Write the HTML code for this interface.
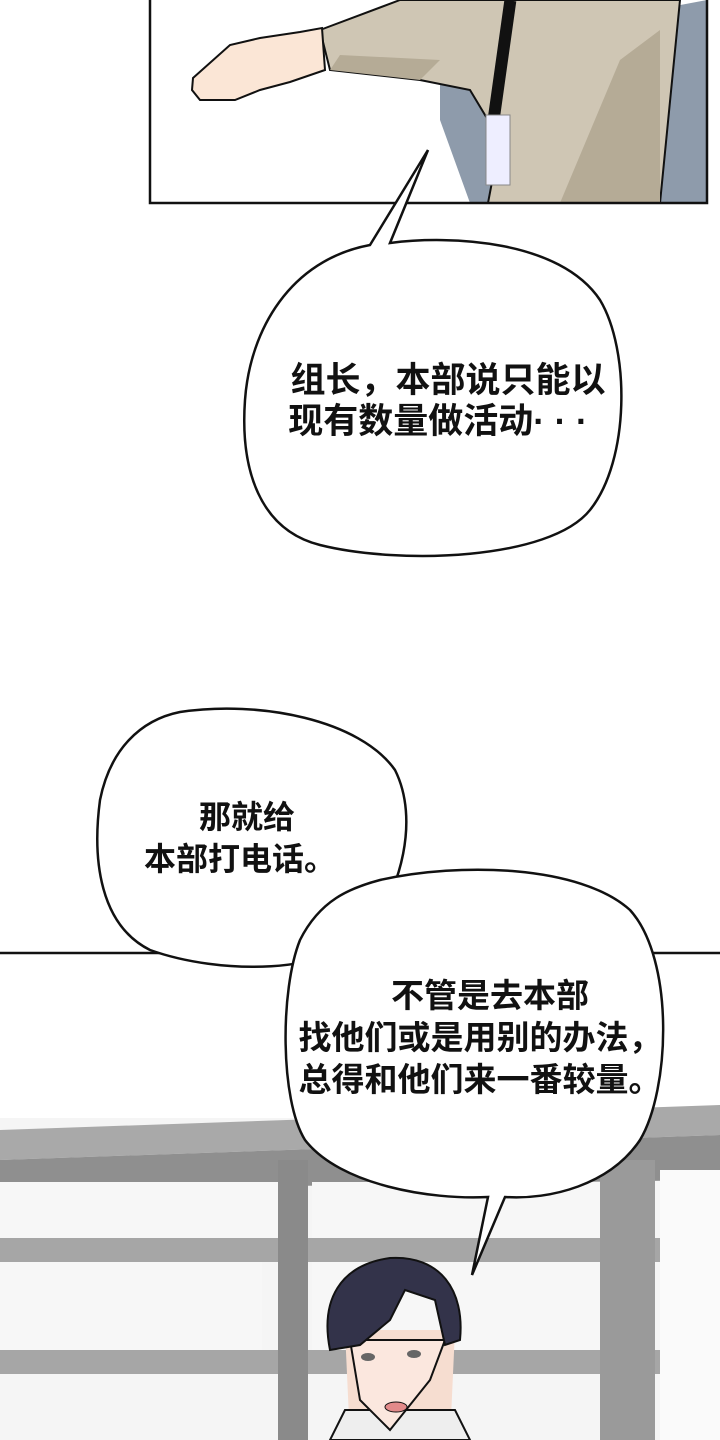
<!DOCTYPE html>
<html><head><meta charset="utf-8"><style>
html,body{margin:0;padding:0;background:#fff}
body{width:720px;height:1440px;position:relative;overflow:hidden}
svg{position:absolute;left:0;top:0}
.t{font-family:"Liberation Sans","Noto Sans CJK SC",sans-serif;font-weight:700;font-size:32px;fill:#111}
.b{font-size:35px}
</style></head><body>
<svg width="720" height="1440" viewBox="0 0 720 1440">
<rect x="150" y="-5" width="557" height="208" fill="#fff"/>
<polygon points="440,80 470,60 520,40 600,20 707,0 707,203 470,203 440,120" fill="#8e9bab"/>
<polygon points="480,70 520,203 540,203 500,60" fill="#f2dcc0"/>
<path d="M320,30 L400,0 L680,0 L660,203 L488,203 L500,140 L470,90 L420,80 L330,70 Z" fill="#cfc6b4" stroke="#111" stroke-width="2"/>
<path d="M560,203 L620,60 L660,30 L660,203 Z" fill="#b5ab96"/>
<path d="M330,70 L420,80 L440,60 L340,55 Z" fill="#b5ab96"/>
<path d="M193,78 L230,45 L260,38 L300,32 L322,28 L325,70 L290,82 L260,90 L235,100 L200,100 L192,90 Z" fill="#fbe6d6" stroke="#111" stroke-width="2"/>
<rect x="496" y="0" width="12" height="120" fill="#111" transform="rotate(8 502 60)"/>
<rect x="486" y="115" width="24" height="70" fill="#eef" stroke="#888"/>
<rect x="150" y="-5" width="557" height="208" fill="none" stroke="#111" stroke-width="2.5"/>
<path d="M370,245 L428,150 L390,243 C450,235 560,240 600,300 C630,350 630,460 590,510 C550,560 400,565 320,545 C260,530 240,470 245,400 C250,330 290,260 370,245 Z" fill="#fff" stroke="#111" stroke-width="2.5"/>
<text class="t b" x="448" y="392" text-anchor="middle">组长，本部说只能以</text>
<text class="t b" x="438" y="433" text-anchor="middle">现有数量做活动· · ·</text>
<rect x="0" y="953" width="720" height="487" fill="#fff"/>
<rect x="0" y="1118" width="720" height="340" fill="#f5f5f5"/>
<polygon points="0,1130 720,1105 720,1135 0,1160" fill="#a9a9a9"/>
<polygon points="0,1160 720,1135 720,1180 0,1190" fill="#8f8f8f"/>
<rect x="0" y="1238" width="720" height="24" fill="#a6a6a6"/>
<rect x="0" y="1350" width="720" height="24" fill="#a6a6a6"/>
<rect x="278" y="1160" width="30" height="280" fill="#8a8a8a"/>
<rect x="600" y="1160" width="55" height="280" fill="#9a9a9a"/>
<rect x="0" y="1182" width="278" height="56" fill="#f7f7f7"/>
<rect x="312" y="1182" width="288" height="56" fill="#f7f7f7"/>
<rect x="0" y="1262" width="262" height="88" fill="#f7f7f7"/>
<rect x="312" y="1262" width="288" height="88" fill="#f7f7f7"/>
<rect x="660" y="1170" width="60" height="270" fill="#fafafa"/>
<line x1="0" y1="953" x2="720" y2="953" stroke="#111" stroke-width="2.5"/>
<path d="M345,1330 L350,1440 L450,1440 L455,1330 Z" fill="#f6ddd0"/>
<path d="M345,1410 L330,1440 L470,1440 L455,1410 Z" fill="#eee" stroke="#111" stroke-width="2"/>
<path d="M350,1340 L360,1400 L390,1430 L430,1380 L445,1340 Z" fill="#fbe7de" stroke="#111" stroke-width="2"/>
<path d="M330,1350 C320,1300 340,1265 390,1258 C440,1255 465,1290 460,1340 L445,1345 L435,1300 L405,1290 L390,1320 L360,1345 Z" fill="#33334a" stroke="#111" stroke-width="2"/>
<ellipse cx="368" cy="1357" rx="7" ry="4" fill="#666"/>
<ellipse cx="414" cy="1354" rx="7" ry="4" fill="#666"/>
<ellipse cx="396" cy="1407" rx="11" ry="5" fill="#e28a8a" stroke="#111"/>
<path d="M180,712 C260,700 360,720 395,770 C420,820 400,890 370,930 C330,975 220,975 150,950 C100,925 92,860 100,800 C110,750 140,720 180,712 Z" fill="#fff" stroke="#111" stroke-width="2.5"/>
<text class="t" x="247" y="828" text-anchor="middle">那就给</text>
<text class="t" x="240" y="870" text-anchor="middle">本部打电话。</text>
<path d="M380,880 C460,862 580,865 630,910 C675,960 670,1090 640,1140 C610,1185 550,1200 505,1197 L472,1275 L488,1197 C430,1200 340,1185 305,1140 C280,1100 280,990 300,940 C320,900 350,888 380,880 Z" fill="#fff" stroke="#111" stroke-width="2.5"/>
<text class="t b" x="490" y="1007" text-anchor="middle" style="font-size:33px">不管是去本部</text>
<text class="t" x="480" y="1049" text-anchor="middle" style="font-size:33px">找他们或是用别的办法，</text>
<text class="t" x="480" y="1091" text-anchor="middle" style="font-size:33px">总得和他们来一番较量。</text>
</svg>
</body></html>
